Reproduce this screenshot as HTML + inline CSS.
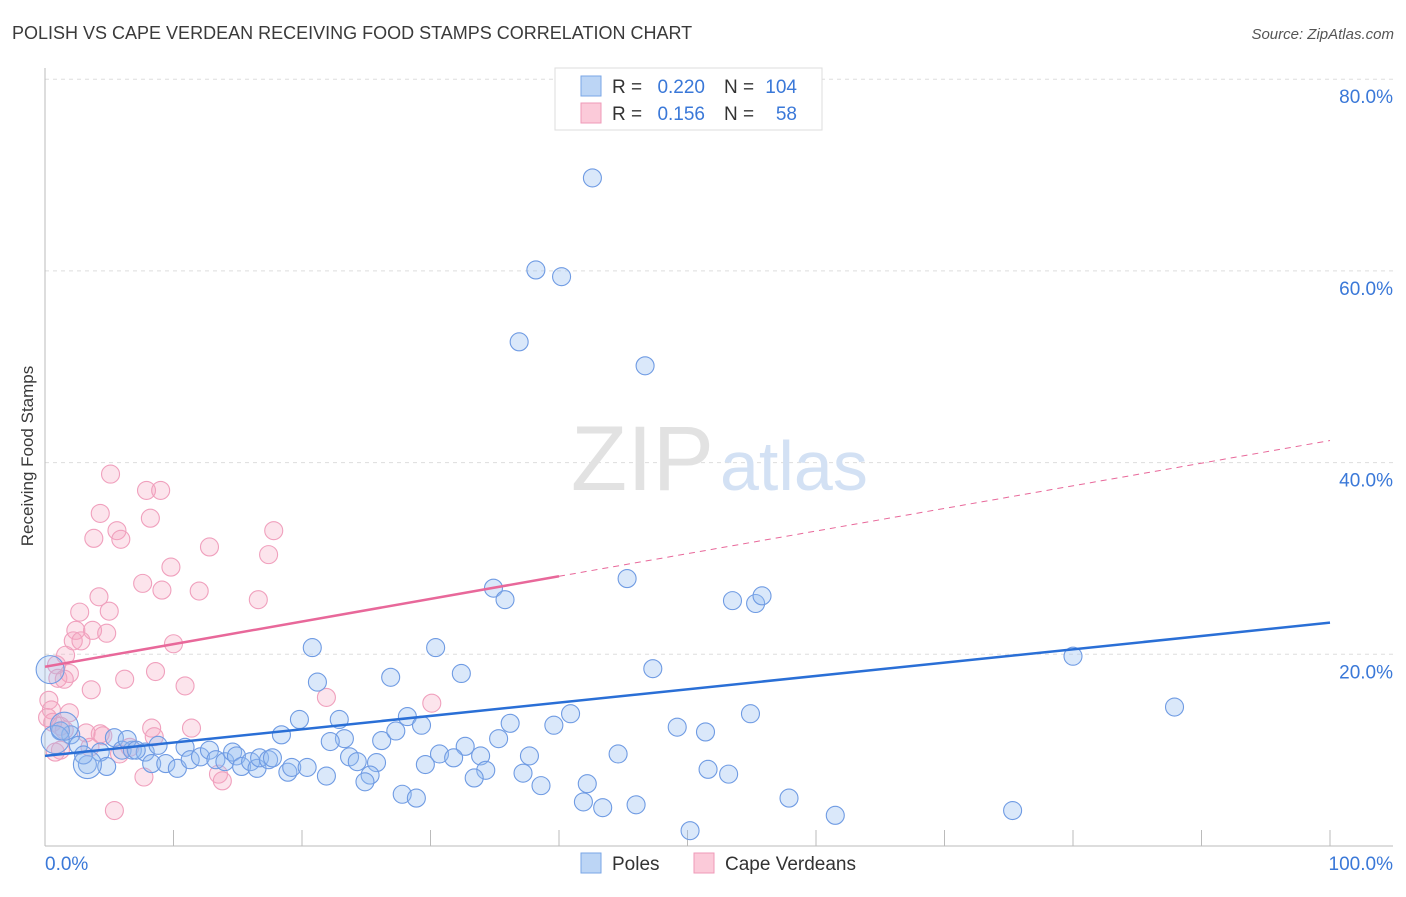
<!DOCTYPE html>
<html><head><meta charset="utf-8"><style>
body{margin:0;background:#fff;font-family:"Liberation Sans",sans-serif;}
svg text{font-family:"Liberation Sans",sans-serif;}
</style></head><body>
<svg id="c" width="1406" height="892" xmlns="http://www.w3.org/2000/svg">
<text x="12" y="39" font-size="18" fill="#3a3a3a">POLISH VS CAPE VERDEAN RECEIVING FOOD STAMPS CORRELATION CHART</text>
<text x="1394" y="39" font-size="15" fill="#555" font-style="italic" text-anchor="end">Source: ZipAtlas.com</text>
<text x="0" y="0" transform="translate(33,456) rotate(-90)" font-size="17" fill="#3a3a3a" text-anchor="middle">Receiving Food Stamps</text>
<g id="grid"></g>
<text x="714" y="490" font-size="92" fill="#e2e2e2" font-family="Liberation Serif" text-anchor="end">ZIP</text>
<text x="720" y="490" font-size="70" fill="#d3e1f4">atlas</text>
<g id="marks"></g>
<g id="lines"></g>
<g>
<rect x="555" y="68" width="267" height="62" fill="#fff" stroke="#ddd"/>
<rect x="581" y="76" width="20" height="20" fill="#bcd5f5" stroke="#7aa6e6"/>
<rect x="581" y="103" width="20" height="20" fill="#fbcad9" stroke="#ef9ab8"/>
<text x="612" y="93" font-size="19" fill="#333">R =</text><text x="705" y="93" font-size="19" fill="#3a78d8" text-anchor="end">0.220</text>
<text x="724" y="93" font-size="19" fill="#333">N =</text><text x="797" y="93" font-size="19" fill="#3a78d8" text-anchor="end">104</text>
<text x="612" y="120" font-size="19" fill="#333">R =</text><text x="705" y="120" font-size="19" fill="#3a78d8" text-anchor="end">0.156</text>
<text x="724" y="120" font-size="19" fill="#333">N =</text><text x="797" y="120" font-size="19" fill="#3a78d8" text-anchor="end">58</text>
</g>
<g>
<rect x="581" y="853" width="20" height="20" fill="#bcd5f5" stroke="#7aa6e6"/>
<text x="612" y="870" font-size="19" fill="#333">Poles</text>
<rect x="694" y="853" width="20" height="20" fill="#fbcad9" stroke="#ef9ab8"/>
<text x="725" y="870" font-size="19" fill="#333">Cape Verdeans</text>
</g>
</svg>
<script>
const yTicks=[20,40,60,80];
const xTickLabels=["0.0%","100.0%"];
const polesX=[42.6,38.2,40.2,36.9,46.7,45.3,34.9,35.8,53.5,55.3,55.8,20.8,30.4,80.0,47.3,32.4,21.2,26.9,87.9,40.9,54.9,19.8,22.9,28.2,29.3,36.2,39.6,49.2,51.4,18.4,23.3,22.2,26.2,27.3,35.3,32.7,30.7,31.8,33.9,37.7,44.6,23.7,24.3,25.8,29.6,34.3,37.2,25.3,33.4,21.9,38.6,42.2,51.6,53.2,24.9,27.8,28.9,41.9,43.4,46.0,57.9,61.5,75.3,50.2,3.3,4.3,4.8,5.4,6.0,6.8,7.8,8.3,8.8,9.4,10.3,10.9,11.3,12.1,12.8,13.3,14.0,14.6,14.9,15.3,16.0,16.5,16.7,17.4,17.7,18.9,19.2,20.4,6.4,7.1,2.0,1.2,2.6,3.0];
const polesY=[69.7,60.1,59.4,52.6,50.1,27.9,26.9,25.7,25.6,25.3,26.1,20.7,20.7,19.8,18.5,18.0,17.1,17.6,14.5,13.8,13.8,13.2,13.2,13.5,12.6,12.8,12.6,12.4,11.9,11.6,11.2,10.9,11.0,12.0,11.2,10.4,9.6,9.2,9.4,9.4,9.6,9.3,8.8,8.7,8.5,7.9,7.6,7.4,7.1,7.3,6.3,6.5,8.0,7.5,6.7,5.4,5.0,4.6,4.0,4.3,5.0,3.2,3.7,1.6,8.5,9.8,8.3,11.3,10.0,10.0,9.8,8.6,10.5,8.6,8.1,10.3,9.0,9.3,10.0,9.0,8.8,9.8,9.4,8.3,8.8,8.1,9.2,9.0,9.2,7.7,8.2,8.2,11.1,10.0,11.6,12.0,10.5,9.5];
const polesBig=[[0.4,18.4],[0.8,11.1],[1.5,12.5],[3.3,8.5]];
const capeX=[5.1,7.9,9.0,8.2,4.3,5.6,5.9,3.8,17.8,12.8,17.4,9.8,7.6,9.1,12.0,16.6,4.2,2.7,5.0,3.7,2.4,4.8,2.2,2.8,10.0,1.6,0.9,1.9,1.0,1.5,3.6,6.2,8.6,10.9,21.9,30.1,0.3,0.5,1.9,0.2,0.6,1.2,1.5,3.2,4.3,4.5,8.3,11.4,8.5,3.5,6.6,1.2,5.8,0.8,7.7,13.5,13.8,5.4];
const capeY=[38.8,37.1,37.1,34.2,34.7,32.9,32.0,32.1,32.9,31.2,30.4,29.1,27.4,26.7,26.6,25.7,26.0,24.4,24.5,22.5,22.5,22.2,21.4,21.4,21.1,19.9,18.9,18.0,17.5,17.4,16.3,17.4,18.2,16.7,15.5,14.9,15.2,14.2,13.9,13.4,12.9,12.5,12.1,11.8,11.7,11.5,12.3,12.3,11.4,10.3,10.3,10.0,9.6,9.8,7.2,7.5,6.8,3.7];
const polesFit=[9.4,23.3];
const capeFit=[18.7,42.3];
const capeSolidEnd=40;
const X=v=>45+v*12.85, Y=v=>846-v*9.585;
const NS="http://www.w3.org/2000/svg";
function mk(t,a,p){const e=document.createElementNS(NS,t);for(const k in a)e.setAttribute(k,a[k]);p.appendChild(e);return e;}
const grid=document.getElementById('grid'),marks=document.getElementById('marks'),lines=document.getElementById('lines');
yTicks.forEach(t=>{
 const l=mk('line',{x1:45,x2:1393,y1:Y(t),y2:Y(t),stroke:'#ddd','stroke-dasharray':'4 4'},grid);
 
 
 const tx=mk('text',{x:1393,y:Y(t)+24,'font-size':19,fill:'#3a78d8','text-anchor':'end'},grid);
 tx.textContent=t.toFixed(1)+'%';
 
 
});
mk('line',{x1:45,x2:45,y1:68,y2:846,stroke:'#bbb'},grid);
mk('line',{x1:45,x2:1393,y1:846,y2:846,stroke:'#bbb'},grid);
for(let i=0;i<=10;i++){mk('line',{x1:X(i*10),x2:X(i*10),y1:830,y2:846,stroke:'#bbb'},grid);}
const xl0=mk('text',{x:45,y:870,'font-size':19,fill:'#3a78d8'},grid);xl0.textContent=xTickLabels[0];


const xl1=mk('text',{x:1393,y:870,'font-size':19,fill:'#3a78d8','text-anchor':'end'},grid);xl1.textContent=xTickLabels[1];


capeX.forEach((v,i)=>{const c=mk('circle',{cx:X(v),cy:Y(capeY[i]),r:9,fill:'rgba(244,165,192,0.3)',stroke:'#f0a0bd','stroke-width':1.1},marks);
 
 });
polesX.forEach((v,i)=>{const c=mk('circle',{cx:X(v),cy:Y(polesY[i]),r:9,fill:'rgba(150,190,240,0.35)',stroke:'#6f9be3','stroke-width':1.1},marks);
 
 });
polesBig.forEach(p=>{const c=mk('circle',{cx:X(p[0]),cy:Y(p[1]),r:14,fill:'rgba(150,190,240,0.3)',stroke:'#6f9be3','stroke-width':1.1},marks);
 
 });
const bl=mk('line',{x1:X(0),y1:Y(polesFit[0]),x2:X(100),y2:Y(polesFit[1]),stroke:'#2a6fd6','stroke-width':2.5},lines);


const cy40=capeFit[0]+(capeFit[1]-capeFit[0])*capeSolidEnd/100;
const pl=mk('line',{x1:X(0),y1:Y(capeFit[0]),x2:X(capeSolidEnd),y2:Y(cy40),stroke:'#e8689a','stroke-width':2.5},lines);


const pd=mk('line',{x1:X(capeSolidEnd),y1:Y(cy40),x2:X(100),y2:Y(capeFit[1]),stroke:'#e8689a','stroke-width':1,'stroke-dasharray':'6 5'},lines);


</script>
</body></html>
